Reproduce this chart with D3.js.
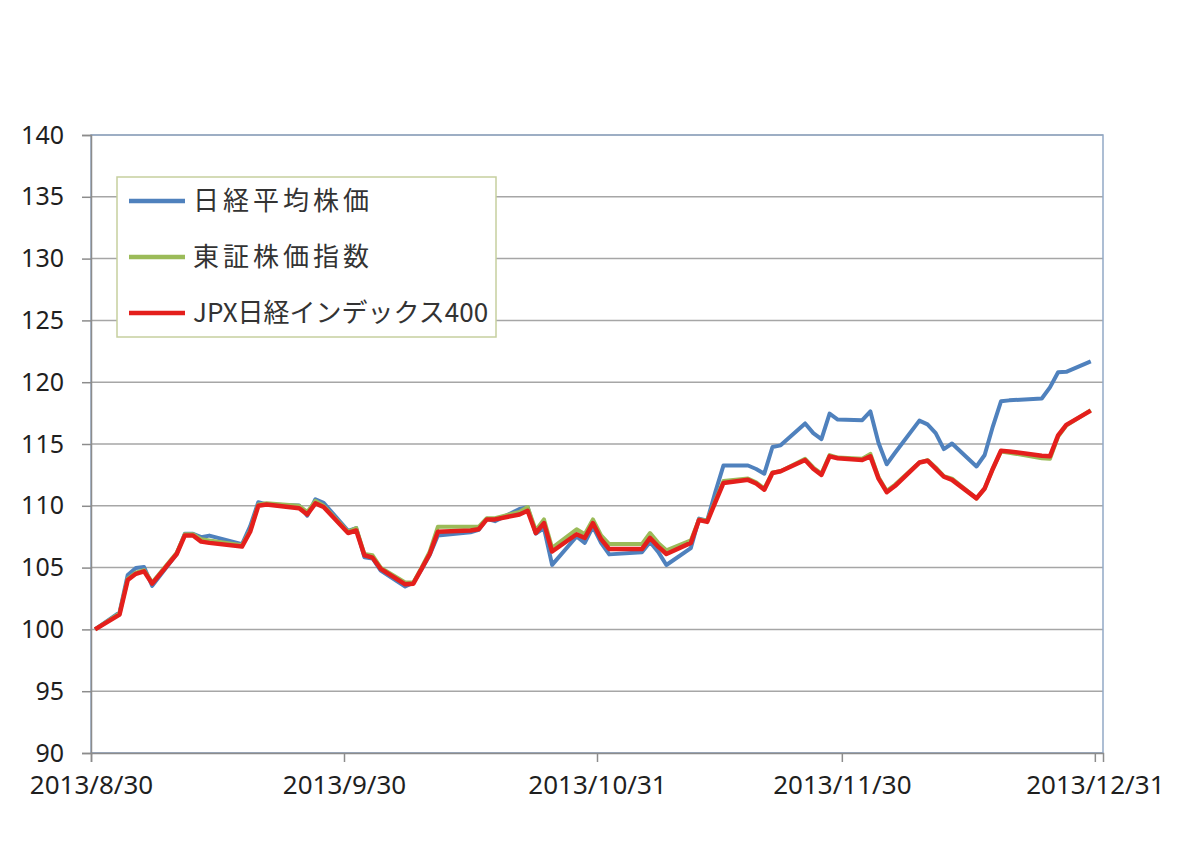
<!DOCTYPE html>
<html>
<head>
<meta charset="utf-8">
<script src="https://cdn.jsdelivr.net/npm/d3@7"></script>
<style>
  html, body { margin: 0; padding: 0; background: #fff; }
  svg { display: block; }
</style>
</head>
<body>
<div id="app"></div>
<script>
// trading days, 2013/8/30 = 100
const dates = [
  '2013/8/30',
  '2013/9/2','2013/9/3','2013/9/4','2013/9/5','2013/9/6','2013/9/9','2013/9/10','2013/9/11','2013/9/12','2013/9/13',
  '2013/9/17','2013/9/18','2013/9/19','2013/9/20','2013/9/24','2013/9/25','2013/9/26','2013/9/27','2013/9/30',
  '2013/10/1','2013/10/2','2013/10/3','2013/10/4','2013/10/7','2013/10/8','2013/10/9','2013/10/10','2013/10/11',
  '2013/10/15','2013/10/16','2013/10/17','2013/10/18','2013/10/21','2013/10/22','2013/10/23','2013/10/24','2013/10/25',
  '2013/10/28','2013/10/29','2013/10/30','2013/10/31',
  '2013/11/1','2013/11/5','2013/11/6','2013/11/7','2013/11/8','2013/11/11','2013/11/12','2013/11/13','2013/11/14','2013/11/15',
  '2013/11/18','2013/11/19','2013/11/20','2013/11/21','2013/11/22','2013/11/25','2013/11/26','2013/11/27','2013/11/28','2013/11/29',
  '2013/12/2','2013/12/3','2013/12/4','2013/12/5','2013/12/6','2013/12/9','2013/12/10','2013/12/11','2013/12/12','2013/12/13',
  '2013/12/16','2013/12/17','2013/12/18','2013/12/19','2013/12/20','2013/12/24','2013/12/25','2013/12/26','2013/12/27','2013/12/30'
]

const nikkei = [
  100.00,
  101.37,104.40,104.97,105.05,103.52,106.10,107.73,107.74,107.46,107.59,
  106.89,108.34,110.29,110.11,110.03,109.20,110.53,110.24,107.97,
  108.19,105.84,105.74,104.75,103.47,103.78,104.85,106.02,107.59,
  107.86,108.05,108.95,108.76,109.74,109.89,107.75,108.20,105.22,
  107.52,107.00,108.32,107.01,
  106.07,106.25,107.08,106.27,105.21,106.58,108.96,108.80,111.11,113.27,
  113.26,112.98,112.60,114.76,114.89,116.66,115.88,115.39,117.46,116.98,
  116.93,117.63,115.08,113.36,114.27,116.89,116.59,115.88,114.59,115.04,
  113.18,114.11,116.41,118.45,118.53,118.68,119.58,120.81,120.84,121.68
]

const topix = [
  100.0,
  101.3,104.1,104.6,104.8,103.8,106.2,107.7,107.7,107.3,107.2,
  106.8,108.0,110.1,110.2,110.0,109.5,110.4,110.0,107.9,
  108.2,106.1,106.0,105.0,103.8,103.8,105.0,106.3,108.3,
  108.3,108.3,109.0,109.0,109.5,109.9,108.0,108.9,106.6,
  108.1,107.7,108.9,107.6,
  106.9,106.9,107.8,107.0,106.4,107.2,108.9,108.8,110.4,112.0,
  112.2,111.9,111.4,112.7,112.8,113.8,113.1,112.6,114.1,113.9,
  113.8,114.2,112.3,111.2,111.7,113.5,113.7,113.1,112.4,112.2,
  110.6,111.4,113.0,114.4,114.3,113.85,113.8,115.6,116.5,117.74
]

const jpx400 = [
  100.0,
  101.2,104.0,104.5,104.7,103.7,106.1,107.6,107.6,107.1,107.0,
  106.7,107.9,110.0,110.1,109.8,109.3,110.2,109.9,107.8,
  108.0,106.0,105.8,104.9,103.65,103.7,104.9,106.1,107.9,
  108.0,108.1,108.9,108.9,109.3,109.6,107.8,108.6,106.3,
  107.7,107.4,108.6,107.3,
  106.5,106.5,107.4,106.7,106.1,107.0,108.85,108.7,110.3,111.85,
  112.1,111.8,111.3,112.65,112.8,113.7,113.0,112.5,114.0,113.85,
  113.7,114.0,112.2,111.1,111.6,113.5,113.65,113.0,112.35,112.1,
  110.6,111.4,113.0,114.45,114.4,114.05,114.0,115.7,116.55,117.7
]

const seriesNames = ['日経平均株価', '東証株価指数', 'JPX日経インデックス400']
const seriesColors = ['#4f81bd', '#9bbb59', '#e41f1c']
const yTicks = [90, 95, 100, 105, 110, 115, 120, 125, 130, 135, 140]
const xTickLabels = ['2013/8/30', '2013/9/30', '2013/10/31', '2013/11/30', '2013/12/31']

const W = 1200, H = 846
const m = { left: 91, right: 1103, top: 135, bottom: 753 }
const parse = d3.timeParse('%Y/%m/%d')
const days = dates.map(parse)

const x = d3.scaleTime()
  .domain([parse('2013/8/30'), parse('2014/1/1')])
  .range([m.left, m.right])
const y = d3.scaleLinear().domain([90, 140]).range([m.bottom, m.top])

// excel date axis: each point sits in the middle of its day slot
const xMid = d => x(d3.timeHour.offset(d, 12))

const svg = d3.select('#app').append('svg')
  .attr('width', W).attr('height', H)
  .style('font-family', '"Noto Sans", "Noto Sans CJK JP", sans-serif')

// gridlines
svg.append('g').selectAll('line').data(yTicks).join('line')
  .attr('x1', m.left).attr('x2', m.right)
  .attr('y1', d => y(d)).attr('y2', d => y(d))
  .attr('stroke', '#a6a6a6').attr('stroke-width', 1.5)

// plot border (top / right)
svg.append('rect')
  .attr('x', m.left).attr('y', m.top)
  .attr('width', m.right - m.left).attr('height', m.bottom - m.top)
  .attr('fill', 'none').attr('stroke', '#92a9c6').attr('stroke-width', 1.5)

// y axis
const yAxis = svg.append('g')
  .attr('transform', `translate(${m.left},0)`)
  .call(d3.axisLeft(y).tickValues(yTicks).tickSize(9).tickPadding(18))
yAxis.select('.domain').attr('stroke', '#8c8c8c').attr('stroke-width', 1.5)
yAxis.selectAll('.tick line').attr('stroke', '#8c8c8c').attr('stroke-width', 1.5)
yAxis.selectAll('.tick text')
  .attr('font-size', 25).attr('fill', '#1f1f1f')
  .style('font-family', '"Noto Sans", sans-serif')

// x axis
const fmt = d3.timeFormat('%Y/%-m/%-d')
const xAxis = svg.append('g')
  .attr('transform', `translate(0,${m.bottom})`)
  .call(d3.axisBottom(x).tickValues(xTickLabels.map(parse)).tickFormat(fmt).tickSize(9).tickPadding(14))
xAxis.select('.domain').attr('stroke', '#8c8c8c').attr('stroke-width', 1.5)
xAxis.selectAll('.tick line').attr('stroke', '#8c8c8c').attr('stroke-width', 1.5)
xAxis.selectAll('.tick text')
  .attr('font-size', 26).attr('fill', '#1f1f1f')
  .style('font-family', '"Noto Sans", sans-serif')

// lines
const allSeries = [nikkei, topix, jpx400]
const line = d3.line().x((d, i) => xMid(days[i])).y(d => y(d))
svg.append('g').selectAll('path').data(allSeries).join('path')
  .attr('d', d => line(d))
  .attr('fill', 'none')
  .attr('stroke', (d, i) => seriesColors[i])
  .attr('stroke-width', (d, i) => i === 2 ? 4.5 : 4)
  .attr('stroke-linejoin', 'round')

// legend
const lg = svg.append('g')
lg.append('rect')
  .attr('x', 117).attr('y', 177).attr('width', 379).attr('height', 160)
  .attr('fill', '#fff').attr('stroke', '#c6cf9f').attr('stroke-width', 1.5)
const items = lg.selectAll('g').data(seriesNames).join('g')
  .attr('transform', (d, i) => `translate(129,${201 + i * 56})`)
items.append('line')
  .attr('x1', 0).attr('x2', 56)
  .attr('stroke', (d, i) => seriesColors[i])
  .attr('stroke-width', 4.5)
items.append('text')
  .attr('x', 64).attr('dy', '0.36em')
  .attr('font-size', 26).attr('fill', '#333')
  .attr('letter-spacing', (d, i) => i < 2 ? 4 : 0)
  .style('font-family', '"Noto Sans CJK JP", sans-serif')
  .text(d => d)
</script>
</body>
</html>
